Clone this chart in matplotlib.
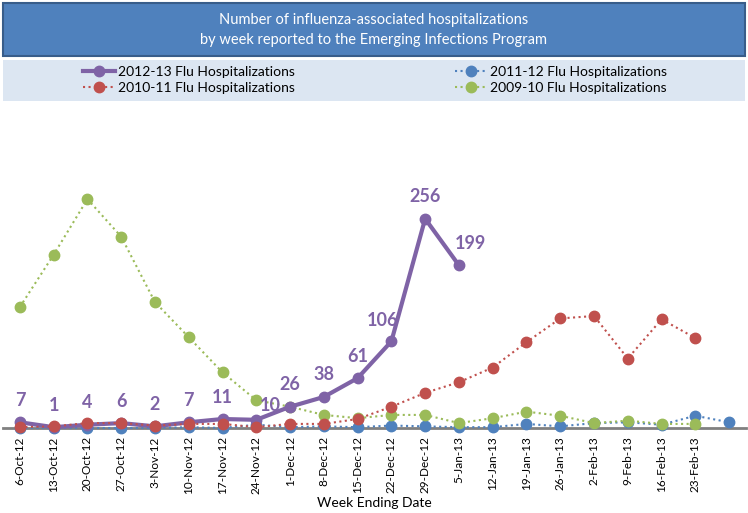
import matplotlib
matplotlib.use("Agg")
import matplotlib.pyplot as plt
from matplotlib.patches import Rectangle
from matplotlib.lines import Line2D

plt.rcParams['font.family'] = ['Lato', 'DejaVu Sans']

weeks = ["6-Oct-12", "13-Oct-12", "20-Oct-12", "27-Oct-12", "3-Nov-12", "10-Nov-12",
         "17-Nov-12", "24-Nov-12", "1-Dec-12", "8-Dec-12", "15-Dec-12", "22-Dec-12",
         "29-Dec-12", "5-Jan-13", "12-Jan-13", "19-Jan-13", "26-Jan-13", "2-Feb-13",
         "9-Feb-13", "16-Feb-13", "23-Feb-13", ""]
flu_2012_13 = [7, 1, 4, 6, 2, 7, 11, 10, 26, 38, 61, 106, 256, 199]
flu_2011_12 = [0, 0, 0, 0, 0, 1, 0, 4, 1, 2, 1, 3, 2, 1, 1, 5, 2, 6, 7, 4, 15, 7]
flu_2010_11 = [1, 2, 6, 6, 3, 5, 5, 1, 5, 5, 11, 26, 43, 56, 74, 105, 134, 137, 85, 133, 110]
flu_2009_10 = [148, 212, 280, 234, 154, 111, 68, 34, 26, 16, 12, 16, 16, 6, 12, 20, 15, 6, 9, 5, 5]

title_lines = ["Number of influenza-associated hospitalizations",
               "by week reported to the Emerging Infections Program"]
xlabel = "Week Ending Date"
names = ["2012-13 Flu Hospitalizations", "2011-12 Flu Hospitalizations",
         "2010-11 Flu Hospitalizations", "2009-10 Flu Hospitalizations"]

PURPLE = "#7F63A6"
BLUE = "#4F81BD"
RED = "#C0504D"
GREEN = "#9BBB59"

W, H = 748, 513
fig = plt.figure(figsize=(W / 100, H / 100), dpi=100)

# title box
fig.patches.append(Rectangle((3 / W, 1 - 56 / H), 742 / W, 53 / H, transform=fig.transFigure,
                             facecolor="#4F81BD", edgecolor="#385D8A", linewidth=1.5))
fig.text(0.5, 1 - 20 / H, title_lines[0], ha="center", va="center", color="white", fontsize=10.5)
fig.text(0.5, 1 - 40 / H, title_lines[1], ha="center", va="center", color="white", fontsize=10.5)
# legend box
fig.patches.append(Rectangle((3 / W, 1 - 101 / H), 742 / W, 41 / H, transform=fig.transFigure,
                             facecolor="#DCE6F2", edgecolor="none"))

ax = fig.add_axes([3 / W, 1 - 428 / H, 743 / W, 318 / H])
x = list(range(len(weeks)))

ms = 7.5
l1, = ax.plot(x[:len(flu_2011_12)], flu_2011_12, ':', color=BLUE, lw=1.5, marker='o', ms=ms,
              clip_on=False, zorder=3)
l2, = ax.plot(x[:len(flu_2010_11)], flu_2010_11, ':', color=RED, lw=1.5, marker='o', ms=ms,
              clip_on=False, zorder=4)
l3, = ax.plot(x[:len(flu_2009_10)], flu_2009_10, ':', color=GREEN, lw=1.5, marker='o', ms=ms,
              clip_on=False, zorder=3.5)
l0, = ax.plot(x[:len(flu_2012_13)], flu_2012_13, '-', color=PURPLE, lw=3, marker='o', ms=ms,
              clip_on=False, zorder=3.8)

offsets = {7: (14, 14), 11: (-9, 21), 13: (12, 22)}
for i, v in enumerate(flu_2012_13):
    dx, dy = offsets.get(i, (0, 22))
    ax.annotate(str(v), (x[i], v), xytext=(dx * 0.72, dy * 0.72), textcoords="offset points",
                ha="center", va="center", color=PURPLE, fontsize=13, fontweight="bold", zorder=6)

ax.set_xlim(-0.5, len(weeks) - 0.5)
ax.set_ylim(0, 389)
ax.set_xticks(x)
ax.set_xticklabels(weeks, rotation=90, fontsize=8.5)
ax.tick_params(axis='x', length=0, pad=6)
ax.set_yticks([])
for s in ["top", "right", "left"]:
    ax.spines[s].set_visible(False)
ax.spines["bottom"].set_color("#808080")
ax.spines["bottom"].set_linewidth(2)
ax.patch.set_alpha(0)
ax.set_xlabel(xlabel, fontsize=10, labelpad=2)

handles = [l0, l2, l1, l3]
labels = [names[0], names[2], names[1], names[3]]
fig.legend(handles, labels, loc="center", bbox_to_anchor=(375 / W, 1 - 80 / H), ncol=2,
           frameon=False, fontsize=10, handlelength=2.3, columnspacing=11.5,
           labelspacing=0.3, handletextpad=0.2, borderpad=0)

fig.savefig("out.png", dpi=100)
